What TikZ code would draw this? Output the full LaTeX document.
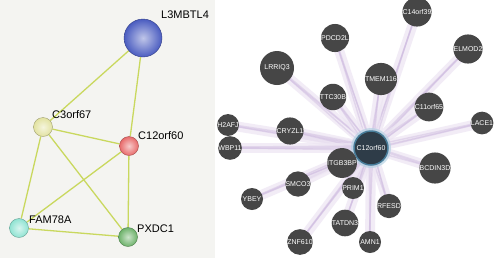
\documentclass[tikz,border=0pt]{standalone}
\usepackage{fontspec}
\setmainfont{Liberation Sans}
\usetikzlibrary{backgrounds}
\definecolor{leftbg}{HTML}{F4F4F1}
\definecolor{ledge}{HTML}{C9D85E}
\definecolor{cblue}{HTML}{4A5CC0}
\definecolor{cyell}{HTML}{E2E2A0}
\definecolor{cred}{HTML}{E86A6A}
\definecolor{ccyan}{HTML}{8FE3D2}
\definecolor{cgreen}{HTML}{6DB26A}
\definecolor{ngray}{HTML}{464646}
\definecolor{ncenter}{HTML}{2E3C48}
\definecolor{glow}{HTML}{5A9CC0}
\definecolor{redgeA}{HTML}{EDE5F3}
\definecolor{redgeB}{HTML}{CDB9DF}
\tikzset{
  lnode/.style={circle, minimum size=19pt, inner sep=0pt, shading=radial, inner color=#1!35!white, outer color=#1, draw=#1!70!black, line width=0.4pt},
  llabel/.style={anchor=base west, inner sep=0pt, font=\fontsize{11}{13}\selectfont},
  ledgestyle/.style={ledge, line width=1.3pt},
  rnode/.style={circle, fill=ngray, minimum size=#1, inner sep=0pt, text=white, font=\fontsize{7}{8}\selectfont},
  rnode/.default=22pt,
  redgewide/.style={redgeA, line width=10pt, opacity=0.7},
  redgethin/.style={redgeB, line width=1.4pt, opacity=0.45},
}
\begin{document}
\begin{tikzpicture}[x=1pt,y=-1pt]
\useasboundingbox (0,0) rectangle (500,258);
\begin{scope}[on background layer]
\fill[leftbg] (0,0) rectangle (215,258);
\fill[white] (215,0) rectangle (500,258);
\end{scope}

% ---------- left network ----------
\node[lnode=cblue, minimum size=38pt] (L3) at (143,38) {};
\node[lnode=cyell] (C3) at (43,127) {};
\node[lnode=cred] (C12) at (129,146) {};
\node[lnode=ccyan] (FAM) at (19,228) {};
\node[lnode=cgreen] (PX) at (128,237) {};
\node[llabel] (tL3) at (161,18) {L3MBTL4};
\node[llabel] (tC3) at (52,118) {C3orf67};
\node[llabel] (tC12) at (138,139) {C12orf60};
\node[llabel] (tFAM) at (29,223) {FAM78A};
\node[llabel] (tPX) at (137,232) {PXDC1};
\begin{scope}[on background layer]
\draw[ledgestyle] (L3) -- (C3);
\draw[ledgestyle] (L3) -- (C12);
\draw[ledgestyle] (C3) -- (C12);
\draw[ledgestyle] (C3) -- (FAM);
\draw[ledgestyle] (C3) -- (PX);
\draw[ledgestyle] (C12) -- (FAM);
\draw[ledgestyle] (C12) -- (PX);
\draw[ledgestyle] (FAM) -- (PX);
\end{scope}

% ---------- right network ----------
\node[rnode=34pt, fill=ncenter, draw=glow!80!black, line width=1.5pt] (ctr) at (371,148) {C12orf60};
\node[rnode=34pt] (LRRIQ3) at (277,68) {LRRIQ3};
\node[rnode=20pt] (PDCD2L) at (335,38) {PDCD2L};
\node[rnode=22pt] (TTC30B) at (333,97) {TTC30B};
\node[rnode=20pt] (H2AFJ) at (228,125) {H2AFJ};
\node[rnode=20pt] (C14orf39) at (417,12) {C14orf39};
\node[rnode=20pt] (ELMOD2) at (468,49) {ELMOD2};
\node[rnode=24pt] (TMEM116) at (381,79) {TMEM116};
\node[rnode=22pt] (C11orf65) at (429,107) {C11orf65};
\node[rnode=20pt] (LACE1) at (482,123) {LACE1};
\node[rnode=20pt] (CRYZL1) at (290,131) {CRYZL1};
\node[rnode=22pt] (WBP11) at (230,148) {WBP11};
\node[rnode=20pt] (ITGB3BP) at (342,163) {ITGB3BP};
\node[rnode=24pt] (SMCO3) at (298,184) {SMCO3};
\node[rnode=22pt] (YBEY) at (252,199) {YBEY};
\node[rnode=22pt] (PRIM1) at (353,188) {PRIM1};
\node[rnode=22pt] (TATDN3) at (345,223) {TATDN3};
\node[rnode=24pt] (ZNF610) at (300,242) {ZNF610};
\node[rnode=28pt] (BCDIN3D) at (435,168) {BCDIN3D};
\node[rnode=24pt] (RFESD) at (389,206) {RFESD};
\node[rnode=22pt] (AMN1) at (370,242) {AMN1};
\begin{scope}[on background layer]
\foreach \n in {LRRIQ3,PDCD2L,TTC30B,H2AFJ,C14orf39,ELMOD2,TMEM116,C11orf65,LACE1,CRYZL1,WBP11,ITGB3BP,SMCO3,YBEY,PRIM1,TATDN3,ZNF610,BCDIN3D,RFESD,AMN1}{
  \draw[redgewide] (ctr.center) -- (\n.center);
  \draw[redgethin] ([yshift=2pt]ctr.center) -- ([yshift=1pt]\n.center);
  \draw[redgethin] ([xshift=2pt]ctr.center) -- ([xshift=-1pt]\n.center);
  \draw[redgethin] ([shift={(-2pt,-2pt)}]ctr.center) -- (\n.center);
}
\fill[glow!45, opacity=0.7] (ctr.center) circle (20pt);
\end{scope}
\end{tikzpicture}
\end{document}
